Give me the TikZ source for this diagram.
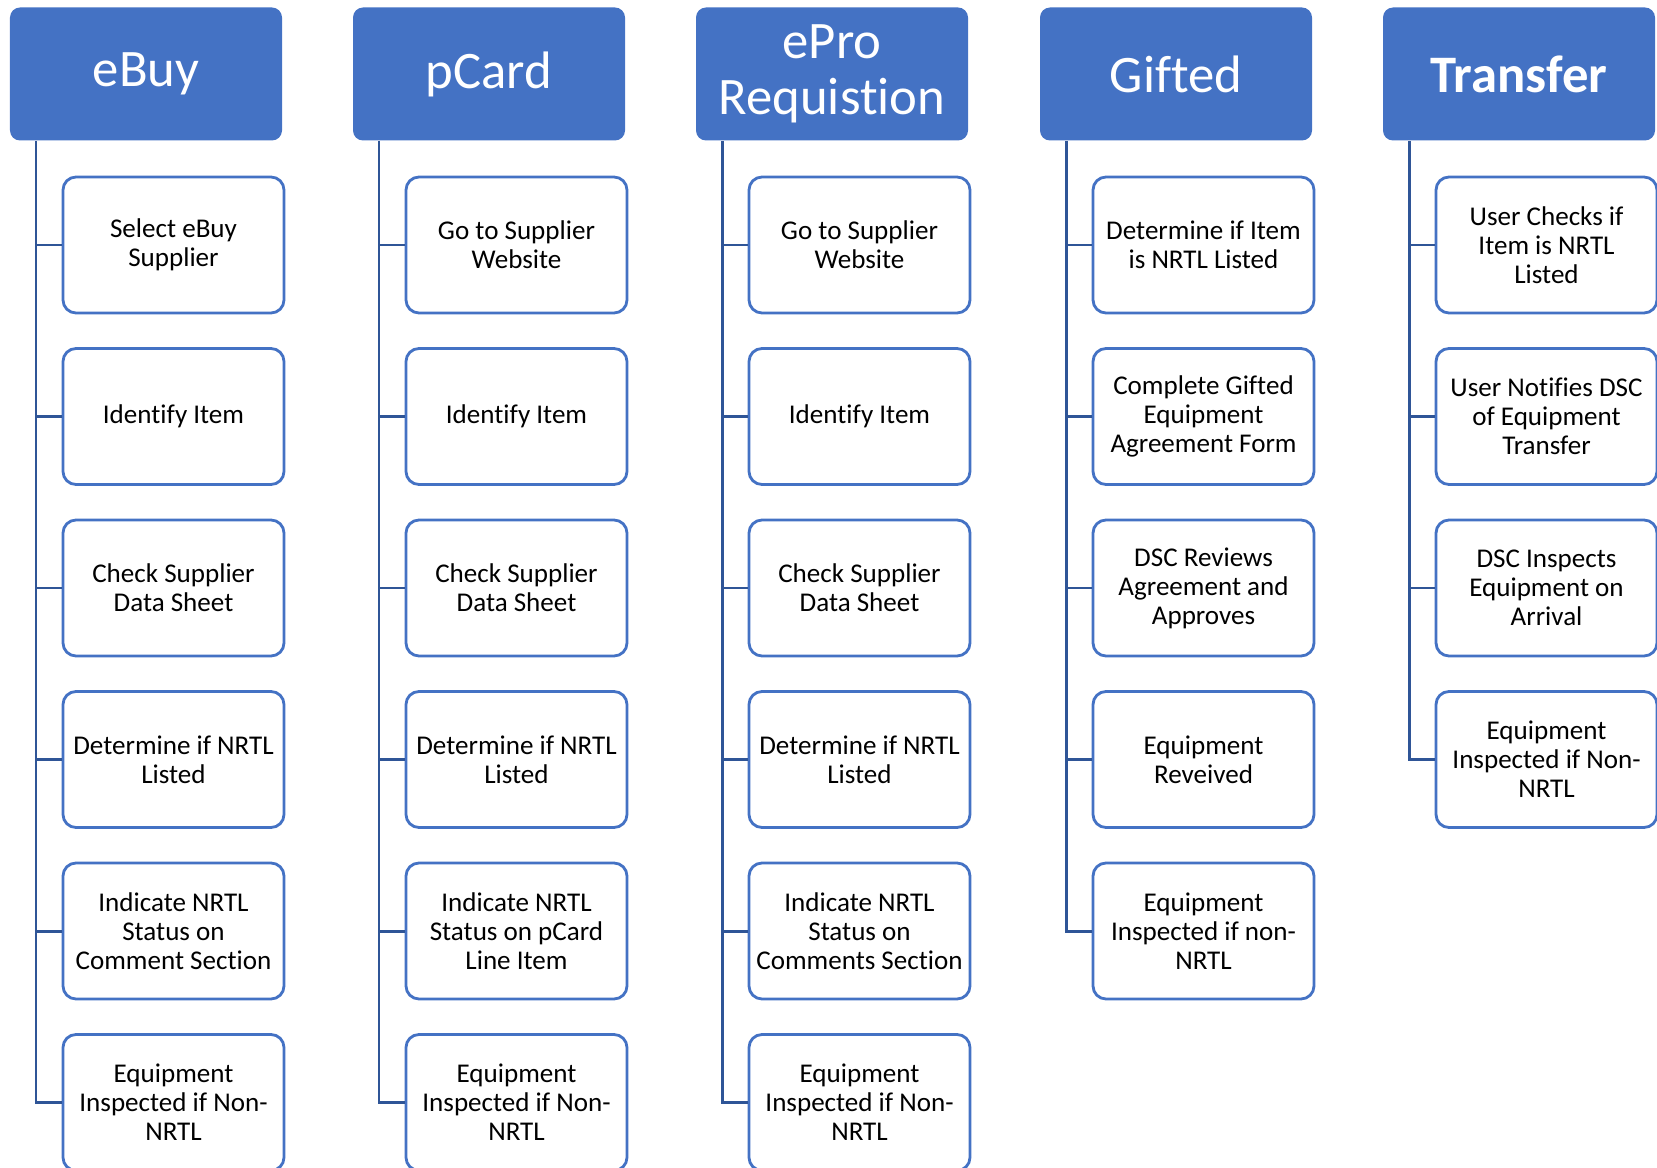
\documentclass[tikz,border=0pt]{standalone}
\usepackage{fontspec}
\setmainfont{Carlito}[Ligatures=NoCommon]
\usetikzlibrary{calc}
\definecolor{headblue}{HTML}{4472C4}
\definecolor{linkblue}{HTML}{2F5597}
\tikzset{
  head/.style={rectangle, rounded corners=0.2cm, fill=headblue, text=white,
    minimum width=5.44cm, minimum height=2.66cm, inner sep=0pt, align=center,
    font=\fontsize{30}{31.5}\selectfont},
  task/.style={rectangle, rounded corners=0.26cm, draw=headblue, line width=1.6pt,
    fill=white, minimum width=4.42cm, minimum height=2.72cm, inner sep=0pt,
    align=center, font=\fontsize{15.4}{16.5}\selectfont},
  link/.style={draw=linkblue, line width=1.7pt}
}
\begin{document}
\begin{tikzpicture}
    \useasboundingbox (0,0) rectangle (33.14,-23.36);

    % eBuy

    \node[head] (eBuy) at (2.92,-1.48) {eBuy};
    \node[task] (e1) at (3.47,-4.90) {Select eBuy\\Supplier};
    \node[task] (e2) at (3.47,-8.33) {Identify Item};
    \node[task] (e3) at (3.47,-11.76) {Check Supplier\\Data Sheet};
    \node[task] (e4) at (3.47,-15.19) {Determine if NRTL\\Listed};
    \node[task] (e5) at (3.47,-18.62) {Indicate NRTL\\Status on\\Comment Section};
    \node[task] (e6) at (3.47,-22.05) {Equipment\\Inspected if Non-\\NRTL};
    \coordinate (eTrunk) at ([xshift=-2.2cm]eBuy.south);
    \draw[link] (eTrunk) |- (e6.west);
    \foreach \i in {1,...,5}
        \draw[link] (e\i.west) -- (e\i.west -| eTrunk);

    % pCard

    \node[head] (pCard) at (9.78,-1.48) {pCard};
    \node[task] (p1) at (10.33,-4.90) {Go to Supplier\\Website};
    \node[task] (p2) at (10.33,-8.33) {Identify Item};
    \node[task] (p3) at (10.33,-11.76) {Check Supplier\\Data Sheet};
    \node[task] (p4) at (10.33,-15.19) {Determine if NRTL\\Listed};
    \node[task] (p5) at (10.33,-18.62) {Indicate NRTL\\Status on pCard\\Line Item};
    \node[task] (p6) at (10.33,-22.05) {Equipment\\Inspected if Non-\\NRTL};
    \coordinate (pTrunk) at ([xshift=-2.2cm]pCard.south);
    \draw[link] (pTrunk) |- (p6.west);
    \foreach \i in {1,...,5}
        \draw[link] (p\i.west) -- (p\i.west -| pTrunk);

    % ePro requisition

    \node[head] (ePro) at (16.64,-1.48) {ePro\\Requistion};
    \node[task] (r1) at (17.19,-4.90) {Go to Supplier\\Website};
    \node[task] (r2) at (17.19,-8.33) {Identify Item};
    \node[task] (r3) at (17.19,-11.76) {Check Supplier\\Data Sheet};
    \node[task] (r4) at (17.19,-15.19) {Determine if NRTL\\Listed};
    \node[task] (r5) at (17.19,-18.62) {Indicate NRTL\\Status on\\Comments Section};
    \node[task] (r6) at (17.19,-22.05) {Equipment\\Inspected if Non-\\NRTL};
    \coordinate (rTrunk) at ([xshift=-2.2cm]ePro.south);
    \draw[link] (rTrunk) |- (r6.west);
    \foreach \i in {1,...,5}
        \draw[link] (r\i.west) -- (r\i.west -| rTrunk);

    % gifted

    \node[head] (gifted) at (23.52,-1.48) {Gifted};
    \node[task] (g1) at (24.07,-4.90) {Determine if Item\\is NRTL Listed};
    \node[task] (g2) at (24.07,-8.33) {Complete Gifted\\Equipment\\Agreement Form};
    \node[task] (g3) at (24.07,-11.76) {DSC Reviews\\Agreement and\\Approves};
    \node[task] (g4) at (24.07,-15.19) {Equipment\\Reveived};
    \node[task] (g5) at (24.07,-18.62) {Equipment\\Inspected if non-\\NRTL};
    \coordinate (gTrunk) at ([xshift=-2.2cm]gifted.south);
    \draw[link] (gTrunk) |- (g5.west);
    \foreach \i in {1,...,4}
        \draw[link] (g\i.west) -- (g\i.west -| gTrunk);

    % transfer

    \node[head, font=\fontsize{30}{31.5}\selectfont\bfseries] (transfer) at (30.38,-1.48) {Transfer};
    \node[task] (t1) at (30.93,-4.90) {User Checks if\\Item is NRTL\\Listed};
    \node[task] (t2) at (30.93,-8.33) {User Notifies DSC\\of Equipment\\Transfer};
    \node[task] (t3) at (30.93,-11.76) {DSC Inspects\\Equipment on\\Arrival};
    \node[task] (t4) at (30.93,-15.19) {Equipment\\Inspected if Non-\\NRTL};
    \coordinate (tTrunk) at ([xshift=-2.2cm]transfer.south);
    \draw[link] (tTrunk) |- (t4.west);
    \foreach \i in {1,...,3}
        \draw[link] (t\i.west) -- (t\i.west -| tTrunk);

\end{tikzpicture}
\end{document}
